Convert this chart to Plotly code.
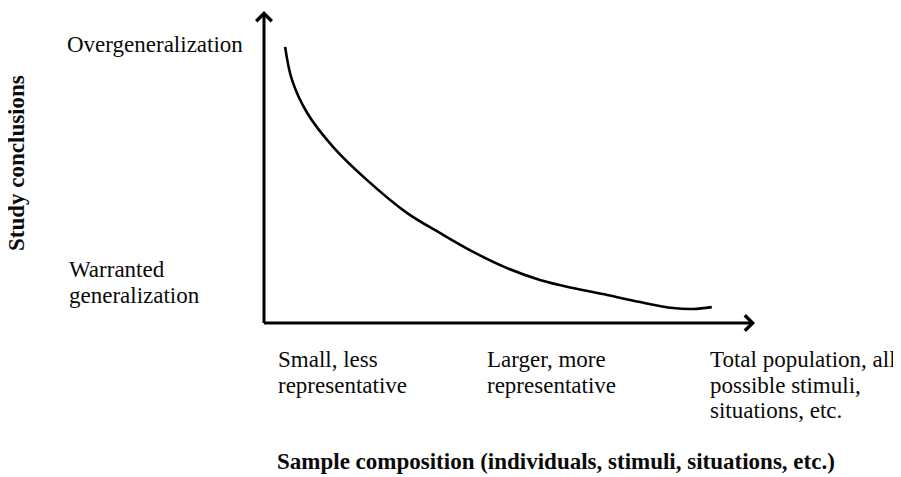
import plotly.graph_objects as go

# ---- data (arbitrary 0-100 units) ----
sample_size = [4.3, 5.7, 8.8, 14.1, 21.0, 29.1, 35.9, 42.6, 49.5, 56.2, 62.9, 69.9, 76.6, 83.3, 87.4, 91.2]
conclusion_level = [88.5, 77.9, 67.3, 56.4, 45.8, 35.3, 28.8, 22.8, 17.6, 13.8, 11.2, 9.0, 6.7, 4.8, 4.5, 5.1]

y_labels = ["Overgeneralization", "Warranted", "generalization"]
x_label_small = ["Small, less", "representative"]
x_label_larger = ["Larger, more", "representative"]
x_label_total = ["Total population, all", "possible stimuli,", "situations, etc."]
x_title = "Sample composition (individuals, stimuli, situations, etc.)"
y_title = "Study conclusions"

# ---- layout geometry (page body has an 8px margin) ----
OFF = 8
W, H = 901 - OFF, 477 - OFF
L, R, T, B = 264 - OFF, 755 - OFF, 11 - OFF, 323 - OFF  # plot box in figure pixels

def px(x):
    return (x - OFF - L) / (R - L)

def py(y):
    return (B - (y - OFF)) / (B - T)

FONT = "Liberation Serif"
FS = 23
TXT = "#0a0a0a"

fig = go.Figure()
fig.add_trace(go.Scatter(
    x=sample_size, y=conclusion_level, mode="lines",
    line=dict(color="#000000", width=2.6, shape="spline", smoothing=1.0),
    hoverinfo="skip", showlegend=False,
))

annotations = []
# axis arrows
annotations.append(dict(x=0, y=100, ax=0, ay=-0.5, xref="x", yref="y", axref="x", ayref="y",
                        showarrow=True, arrowhead=4, arrowsize=1, arrowwidth=3, arrowcolor="#000",
                        text="", standoff=0))
annotations.append(dict(x=100, y=0, ax=-0.3, ay=0, xref="x", yref="y", axref="x", ayref="y",
                        showarrow=True, arrowhead=4, arrowsize=1, arrowwidth=3, arrowcolor="#000",
                        text="", standoff=0))

def label(text, x, y, xanchor="left", bold=False, angle=0):
    t = f"<b>{text}</b>" if bold else text
    annotations.append(dict(text=t, x=px(x), y=py(y), xref="paper", yref="paper",
                            xanchor=xanchor, yanchor="middle", showarrow=False,
                            textangle=angle,
                            font=dict(family=FONT, size=FS, color=TXT)))

label(y_labels[0], 245, 45, xanchor="right")
label(y_labels[1], 67, 269)
label(y_labels[2], 67, 295)

line_y = [359, 385, 411]
for i, t in enumerate(x_label_small):
    label(t, 276, line_y[i])
for i, t in enumerate(x_label_larger):
    label(t, 485, line_y[i])
for i, t in enumerate(x_label_total):
    label(t, 708, line_y[i])

label(x_title, 556, 461, xanchor="center", bold=True)
label(y_title, 16, 163, xanchor="center", bold=True, angle=-90)

fig.update_layout(
    width=W, height=H,
    margin=dict(l=L, r=W - R, t=T, b=H - B, pad=0),
    paper_bgcolor="white", plot_bgcolor="white",
    xaxis=dict(range=[0, 100], visible=False, fixedrange=True),
    yaxis=dict(range=[0, 100], visible=False, fixedrange=True),
    annotations=annotations,
    showlegend=False,
)

fig.write_html("out.html")
